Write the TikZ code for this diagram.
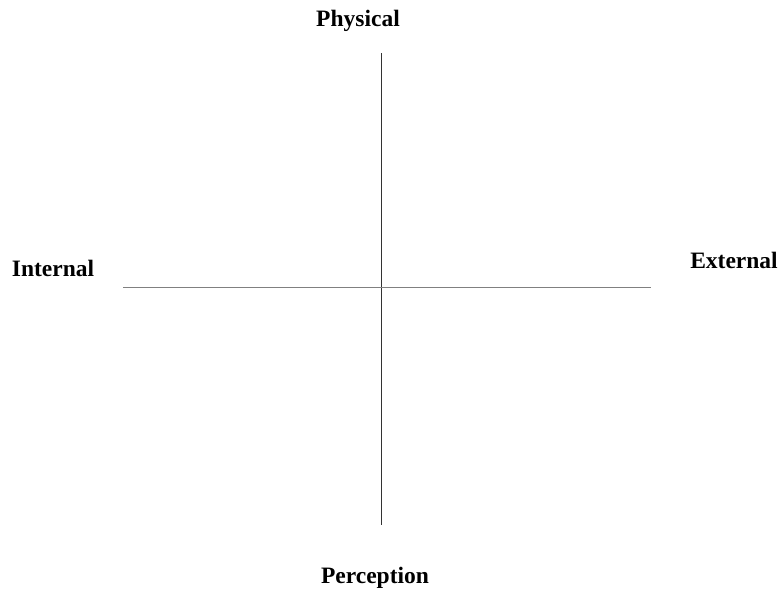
\documentclass[tikz,border=0pt]{standalone}
\usepackage{fontspec}
\setmainfont{Liberation Serif}
\usepackage{tikz}

\begin{document}
\begin{tikzpicture}[x=1pt,y=-1pt]
	\tikzset{axislabel/.style={anchor=base, font=\fontsize{23.5}{28}\selectfont\bfseries, inner sep=0pt}}
	\useasboundingbox (0,0) rectangle (783,595);
	\coordinate (top) at (381,53);
	\coordinate (bottom) at (381,525);
	\coordinate (left) at (123,287);
	\coordinate (right) at (651,287);
	\draw [line width=1pt, black!80] (top) -- (bottom);
	\draw [line width=1pt, black!50] (left) -- (right);
	\node [axislabel] (physical) at (358,26) {Physical};
	\node [axislabel] (perception) at (375,583) {Perception};
	\node [axislabel] (internal) at (53,276) {Internal};
	\node [axislabel] (external) at (734,268) {External};
\end{tikzpicture}
\end{document}
